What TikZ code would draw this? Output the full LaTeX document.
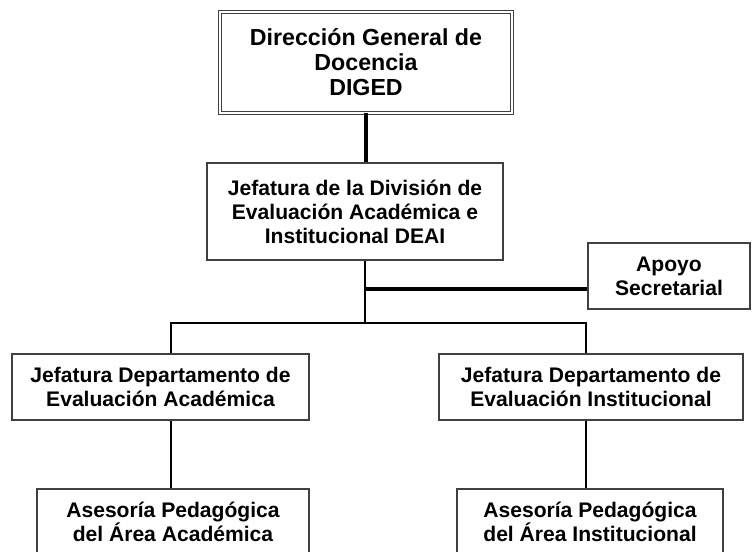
\documentclass[tikz,border=0pt]{standalone}
\usepackage{fontspec}
\setmainfont{Liberation Sans}
\usetikzlibrary{calc}

\tikzset{
    unit/.style={draw=black!75, line width=0.6pt, align=center, inner sep=2pt,
        font=\bfseries\fontsize{12}{13.6}\selectfont},
    head/.style={unit, double, double distance=1.2pt, line width=0.5pt,
        font=\bfseries\fontsize{13.2}{14.2}\selectfont},
    link/.style={line width=1.1pt},
    heavy/.style={line width=1.9pt},
}

\begin{document}
\begin{tikzpicture}
    \useasboundingbox (0, 0) rectangle (15.04, -11.04);

    \node [head, minimum width=5.84cm, minimum height=2.02cm] (DIGED) at (7.32, -1.25) {Dirección General de\\Docencia\\DIGED};
        \node [unit, minimum width=5.92cm, minimum height=1.94cm] (DEAI) at ($(DIGED) + (-.22, -2.98)$) {Jefatura de la División de\\Evaluación Académica e\\Institucional DEAI};
            \node [unit, minimum width=3.24cm, minimum height=1.32cm] (AS) at ($(DEAI) + (6.28, -1.29)$) {Apoyo\\Secretarial};
            \node [unit, minimum width=5.94cm, minimum height=1.32cm] (DEA) at ($(DEAI) + (-3.89, -3.51)$) {Jefatura Departamento de\\Evaluación Académica};
                \node [unit, minimum width=5.44cm, minimum height=1.32cm] (APA) at ($(DEA) + (.25, -2.7)$) {Asesoría Pedagógica\\del Área Académica};
            \node [unit, minimum width=6.08cm, minimum height=1.32cm] (DEI) at ($(DEAI) + (4.72, -3.51)$) {Jefatura Departamento de\\Evaluación Institucional};
                \node [unit, minimum width=5.32cm, minimum height=1.32cm] (API) at ($(DEI) + (-.02, -2.7)$) {Asesoría Pedagógica\\del Área Institucional};

    \coordinate (j1) at (7.30, -5.78);
    \coordinate (j2) at (7.30, -6.46);
    \coordinate (jl) at (3.42, -6.46);
    \coordinate (jr) at (11.72, -6.46);

    \draw [heavy] (DIGED.south) -- (DIGED.south |- DEAI.north);
    \draw [link] (DEAI.south -| j2) -- (j2);
        \draw [heavy] (j1) -- (j1 -| AS.west);
    \draw [link] (jl |- DEA.north) -- (jl) -- (jr) -- (jr |- DEI.north);
        \draw [link] (jl |- DEA.south) -- (jl |- APA.north);
        \draw [link] (jr |- DEI.south) -- (jr |- API.north);
\end{tikzpicture}
\end{document}
